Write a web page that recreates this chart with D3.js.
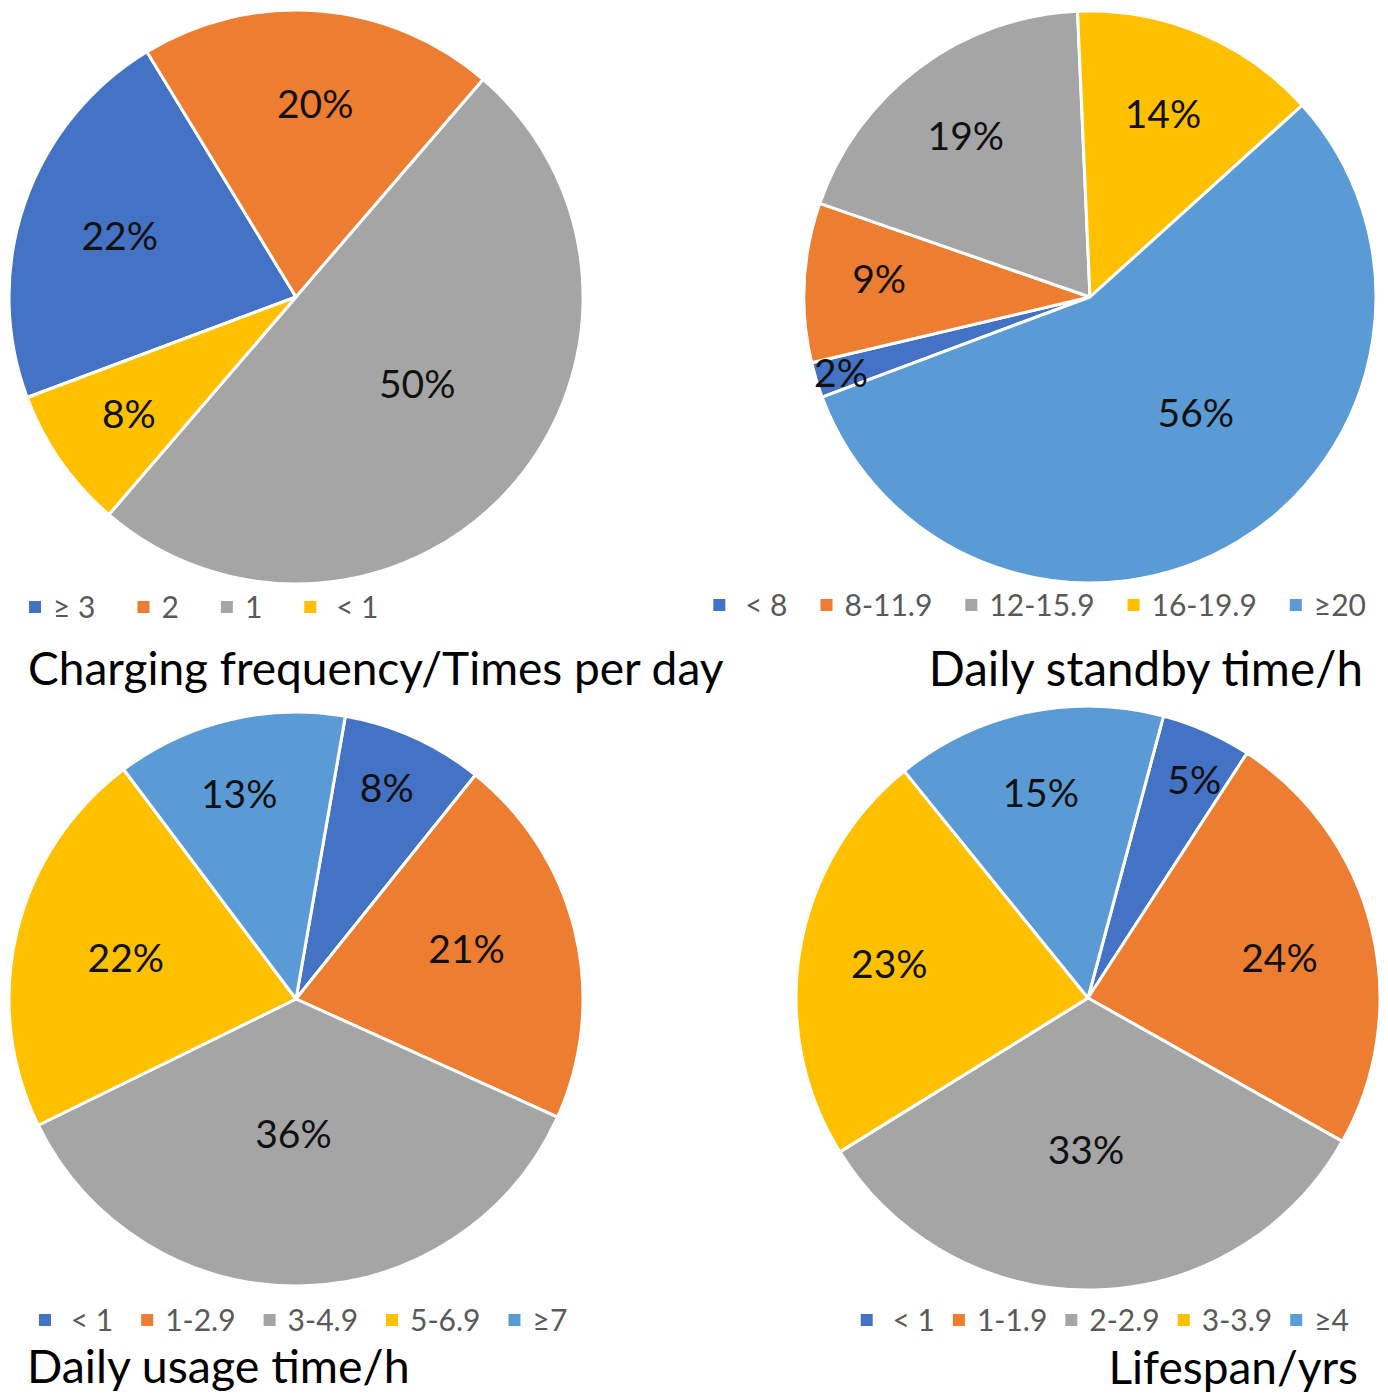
<!DOCTYPE html>
<html>
<head>
<meta charset="utf-8">
<script src="https://cdn.jsdelivr.net/npm/d3@7"></script>
<style>
  html, body { margin: 0; padding: 0; background: #fff; }
  svg { display: block; font-family: Lato, "Open Sans", sans-serif; }
  text { white-space: pre; }
</style>
</head>
<body>
<svg id="chart" width="1388" height="1395"></svg>
<script>
// ---- data ----
const chargingCats = ["≥ 3", "2", "1", " < 1"];
const chargingVals = [22, 20, 50, 8];

const standbyCats = [" < 8", "8-11.9", "12-15.9", "16-19.9", "≥20"];
const standbyVals = [2, 9, 19, 14, 56];

const usageCats = [" < 1", "1-2.9", "3-4.9", "5-6.9", "≥7"];
const usageVals = [8, 21, 36, 22, 13];

const lifespanCats = [" < 1", "1-1.9", "2-2.9", "3-3.9", "≥4"];
const lifespanVals = [5, 24, 33, 23, 15];

const titles = ["Charging frequency/Times per day", "Daily standby time/h", "Daily usage time/h", "Lifespan/yrs"];

const palette = ["#4472C4", "#ED7D31", "#A5A5A5", "#FFC000", "#5B9BD5"];

// ---- layout for each panel ----
const layout = [
  { cx: 296, cy: 297, r: 287, start: 249.5,
    labelR: [0.65, 0.675, 0.52, 0.71], labelTurn: [0, 1, -5, 0],
    legend: { x: 29, y: 607, anchor: "start", gap: 42 },
    title: { x: 28, y: 685, anchor: "start", size: 46 } },
  { cx: 1090, cy: 297, r: 286, start: 249.5,
    labelR: [0.91, 0.74, 0.71, 0.69, 0.55], labelTurn: [0, 2, -1, -1, -11],
    legend: { x: 1366, y: 605, anchor: "end", gap: 33 },
    title: { x: 1363, y: 686, anchor: "end", size: 47.5 } },
  { cx: 296, cy: 999, r: 287, start: 9.9,
    labelR: [0.80, 0.62, 0.47, 0.61, 0.74], labelTurn: [-1, -3, 2, 0, -2],
    legend: { x: 39, y: 1320, anchor: "start", gap: 28 },
    title: { x: 27, y: 1383, anchor: "start", size: 46.5 } },
  { cx: 1088, cy: 998, r: 292, start: 15,
    labelR: [0.83, 0.67, 0.52, 0.69, 0.72], labelTurn: [2, 2, 2, 0, -1],
    legend: { x: 1349, y: 1320, anchor: "end", gap: 18 },
    title: { x: 1358, y: 1384, anchor: "end", size: 46 } }
];

const series = [
  { cats: chargingCats, vals: chargingVals },
  { cats: standbyCats, vals: standbyVals },
  { cats: usageCats, vals: usageVals },
  { cats: lifespanCats, vals: lifespanVals }
];

const svg = d3.select("#chart");
const rad = Math.PI / 180;

series.forEach((s, i) => {
  const L = layout[i];
  const color = d3.scaleOrdinal().domain(s.cats).range(palette);
  const pie = d3.pie().sort(null).value(d => d.v)
    .startAngle(L.start * rad).endAngle(L.start * rad + 2 * Math.PI);
  const arcs = pie(s.cats.map((c, k) => ({ c, v: s.vals[k] })));
  const arc = d3.arc().innerRadius(0).outerRadius(L.r);

  const g = svg.append("g").attr("transform", `translate(${L.cx},${L.cy})`);

  g.selectAll("path.slice").data(arcs).join("path")
    .attr("class", "slice")
    .attr("d", arc)
    .attr("fill", d => color(d.data.c))
    .attr("stroke", "#fff")
    .attr("stroke-width", 3)
    .attr("stroke-linejoin", "round");

  const labelPos = (d, k) => {
    const a = (d.startAngle + d.endAngle) / 2 + L.labelTurn[k] * rad;
    const rr = L.r * L.labelR[k];
    return [Math.sin(a) * rr, -Math.cos(a) * rr];
  };

  g.selectAll("text.val").data(arcs).join("text")
    .attr("class", "val")
    .attr("x", (d, k) => labelPos(d, k)[0])
    .attr("y", (d, k) => labelPos(d, k)[1])
    .attr("dy", "0.36em")
    .attr("text-anchor", "middle")
    .attr("font-size", 39)
    .attr("fill", "#111")
    .text(d => d.data.v + "%");

  // legend: square + label, laid out left to right
  const lg = svg.append("g");
  let x = 0;
  s.cats.forEach((c, k) => {
    lg.append("rect")
      .attr("x", x).attr("y", -6).attr("width", 12).attr("height", 12)
      .attr("fill", color(c));
    const t = lg.append("text")
      .attr("x", x + 24).attr("y", 0).attr("dy", "0.36em")
      .attr("font-size", 30).attr("fill", "#595959")
      .text(c);
    x += 24 + t.node().getComputedTextLength() + L.legend.gap;
  });
  const bb = lg.node().getBBox();
  const lx = L.legend.anchor === "start" ? L.legend.x : L.legend.x - (bb.x + bb.width);
  lg.attr("transform", `translate(${lx},${L.legend.y})`);

  svg.append("text")
    .attr("x", L.title.x).attr("y", L.title.y)
    .attr("text-anchor", L.title.anchor)
    .attr("font-size", L.title.size).attr("fill", "#000")
    .text(titles[i]);
});
</script>
</body>
</html>
